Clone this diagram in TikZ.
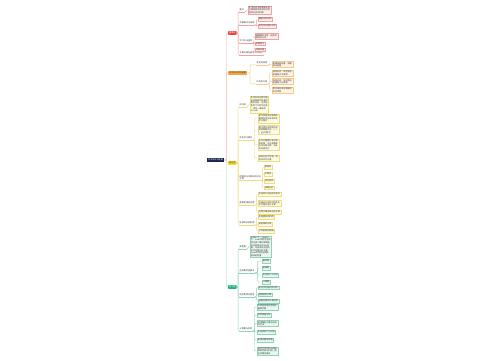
\documentclass[tikz,border=0pt]{standalone}
\usepackage{fontspec}
\setmainfont{Noto Sans CJK SC}
\newcommand\mf{\fontsize{2.1}{2.6}\selectfont}
\definecolor{navy}{HTML}{1C2150}
\definecolor{rmain}{HTML}{E8483F}
\definecolor{rline}{HTML}{F2A3A0}
\definecolor{rfill}{HTML}{FDEDEC}
\definecolor{omain}{HTML}{F7A940}
\definecolor{oline}{HTML}{F8C98A}
\definecolor{ofill}{HTML}{FEF4E6}
\definecolor{ymain}{HTML}{F5D327}
\definecolor{yline}{HTML}{EEDD80}
\definecolor{yfill}{HTML}{FEFBE3}
\definecolor{gmain}{HTML}{1FB37B}
\definecolor{gline}{HTML}{8ED5B5}
\definecolor{gfill}{HTML}{E8F7EF}
\definecolor{txt}{HTML}{333333}
\tikzset{
  rootn/.style={fill=navy, text=white, inner xsep=1.5pt, inner ysep=1pt, font=\mf},
  bnode/.style={anchor=west, fill=#1main, inner xsep=1pt, inner ysep=0.9pt, font=\mf, rounded corners=0.5pt},
  subn/.style={anchor=west, inner xsep=0.5pt, inner ysep=0.6pt, font=\mf, text=txt, align=left},
  leafn/.style={anchor=west, draw=#1line, fill=#1fill, line width=0.25pt, inner xsep=0.8pt, inner ysep=0.7pt, font=\mf, text=txt, align=left},
  conn/.style={draw=#1line, line width=0.45pt, rounded corners=1pt},
  uline/.style={draw=#1line, line width=0.45pt}
}
\begin{document}
\begin{tikzpicture}[x=1pt,y=-1pt]
\useasboundingbox[fill=white] (0,0) rectangle (500,360);
% root
\node[rootn] (root) at (215.5,160) {化学反应与能量};
% branch nodes
\node[bnode=r, text=white] (R) at (228,33) {重难点};
\node[bnode=o, text=txt] (O) at (228,73) {化学反应中的能量};
\node[bnode=y, text=txt] (Y) at (228,163) {知识点};
\node[bnode=g, text=white] (G) at (228,287) {练习题};
\draw[conn=g] (root.east) -- (226.5,160) |- (G.west);
\draw[conn=y] (root.east) -- (226.5,160) |- (Y.west);
\draw[conn=o] (root.east) -- (226.5,160) |- (O.west);
\draw[conn=r] (root.east) -- (226.5,160) |- (R.west);

% ---------- red branch
\node[subn] (rc1) at (239,10) {重点};
\node[subn] (rc2) at (239,23) {本章难点与易错};
\node[subn] (rc3) at (239,41) {学习方法指导};
\node[subn] (rc4) at (239,53) {本章内容在高考中的地位};
\foreach \s in {rc1,rc2,rc3,rc4}{
  \draw[uline=r] (\s.south west) -- (\s.south east);
  \draw[conn=r] (R.east) -- ++(1.5,0) |- (\s.south west);
}
\node[leafn=r] (rl1) at (248,10) {化学反应中能量变化的\\主要原因及吸热反应和\\放热反应的判断};
\node[leafn=r] (rl2) at (258,19) {键能与反应热};
\node[leafn=r] (rl3) at (258,26) {热化学方程式书写};
\node[leafn=r] (rl4) at (255,36.5) {理解概念本质，结合实\\例进行分析};
\node[leafn=r] (rl5) at (255,43.5) {多做练习};
\node[leafn=r] (rl6) at (255,49.5) {归纳总结};
\draw[conn=r] (rc1.south east) -- ++(1.5,0) |- (rl1.west);
\foreach \l in {rl2,rl3}{\draw[conn=r] (rc2.south east) -- ++(1.5,0) |- (\l.west);}
\foreach \l in {rl4,rl5,rl6}{\draw[conn=r] (rc3.south east) -- ++(1,0) |- (\l.west);}

% ---------- orange branch
\node[subn] (oc1) at (256,63) {变化的原因};
\node[subn] (oc2) at (256,82) {反应的分类};
\foreach \s in {oc1,oc2}{
  \draw[uline=o] (\s.south west) -- (\s.south east);
  \draw[conn=o] (O.east) -- ++(3,0) |- (\s.south west);
}
\node[leafn=o] (ol1) at (272,64.5) {断键吸收能量，成键\\放出能量};
\node[leafn=o] (ol2) at (272,73) {放热反应：反应物总\\能量高于生成物};
\node[leafn=o] (ol3) at (272,81.5) {吸热反应：反应物总\\能量低于生成物};
\node[leafn=o] (ol4) at (272,90) {常见吸热反应和放热\\反应举例};
\draw[conn=o] (oc1.south east) -- ++(1.5,0) |- (ol1.west);
\foreach \l in {ol2,ol3,ol4}{\draw[conn=o] (oc2.south east) -- ++(1.5,0) |- (\l.west);}

% ---------- yellow branch
\node[subn] (yc1) at (239,105) {反应热};
\node[subn] (yc2) at (239,138) {热化学方程式};
\node[subn] (yc3) at (239,177.5) {燃烧热与中和热的比较\\计算};
\node[subn] (yc4) at (239,203) {盖斯定律的应用};
\node[subn] (yc5) at (239,223) {能源的开发利用};
\foreach \s in {yc1,yc2,yc3,yc4,yc5}{
  \draw[uline=y] (\s.south west) -- (\s.south east);
  \draw[conn=y] (Y.east) -- ++(1.5,0) |- (\s.south west);
}
\node[leafn=y] (yl1) at (250,104.5) {化学反应过程中放\\出或吸收的热量叫\\做反应热，在恒压\\条件下又称为焓变\\，单位一般采用\\kJ/mol};
\node[leafn=y] (yl2) at (258,118.5) {表示参加反应物质的\\量和反应热关系的化\\学方程式};
\node[leafn=y] (yl3) at (258,130) {需注明反应物和生成\\物的聚集状态，s、l\\、g分别表示};
\node[leafn=y] (yl4) at (258,144.5) {化学计量数只表示物\\质的量，可以是整数\\也可以是分数，与反\\应热成正比};
\node[leafn=y] (yl5) at (258,158) {放热反应为负值，吸\\热反应为正值};
\node[leafn=y] (yl6) at (264,167) {燃烧热};
\node[leafn=y] (yl7) at (264,174) {中和热};
\node[leafn=y] (yl8) at (264,181) {测定实验};
\node[leafn=y] (yl9) at (264,187.5) {误差分析};
\node[leafn=y] (yl10) at (258,194) {反应热只与始终态有关};
\node[leafn=y] (yl11) at (258,203.5) {可通过已知反应的热化\\学方程式进行计算};
\node[leafn=y] (yl12) at (258,212) {应用于难测反应热计算};
\node[leafn=y] (yl13) at (258,217) {化石燃料的利用};
\node[leafn=y] (yl14) at (258,224) {新能源的开发};
\node[leafn=y] (yl15) at (258,231) {节约能源的措施};
\draw[conn=y] (yc1.south east) -- ++(1.5,0) |- (yl1.west);
\foreach \l in {yl2,yl3,yl4,yl5}{\draw[conn=y] (yc2.south east) -- ++(1.5,0) |- (\l.west);}
\foreach \l in {yl6,yl7,yl8,yl9}{\draw[conn=y] (yc3.south east) -- ++(1.2,0) |- (\l.west);}
\foreach \l in {yl10,yl11,yl12}{\draw[conn=y] (yc4.south east) -- ++(1.5,0) |- (\l.west);}
\foreach \l in {yl13,yl14,yl15}{\draw[conn=y] (yc5.south east) -- ++(1.5,0) |- (\l.west);}

% ---------- green branch
\node[subn] (gc1) at (239,247) {典型题};
\node[subn] (gc2) at (239,271) {选择题考查要点};
\node[subn] (gc3) at (239,295) {填空题常见题型};
\node[subn] (gc4) at (239,329) {计算题与实验};
\foreach \s in {gc1,gc2,gc3,gc4}{
  \draw[uline=g] (\s.south west) -- (\s.south east);
  \draw[conn=g] (G.east) -- ++(1.5,0) |- (\s.south west);
}
\node[leafn=g] (gl1) at (250,246.5) {已知25℃、101kPa\\下，1mol甲烷完全燃\\烧生成二氧化碳和液\\态水时放出890kJ热\\量，写出该反应的热\\化学方程式并计算\\2mol甲烷完全燃烧\\放出的热量};
\node[leafn=g] (gl2) at (262,261) {概念题};
\node[leafn=g] (gl3) at (262,268) {图像题};
\node[leafn=g] (gl4) at (262,275) {反应热大小比较};
\node[leafn=g] (gl5) at (262,282) {计算题};
\node[leafn=g] (gl6) at (258,287.5) {热化学方程式的书写};
\node[leafn=g] (gl7) at (258,294.5) {燃烧热的计算};
\node[leafn=g] (gl8) at (258,301) {盖斯定律的计算应用};
\node[leafn=g] (gl9) at (257,307) {中和热测定实验的仪\\器和步骤};
\node[leafn=g] (gl10) at (257,315) {实验误差分析};
\node[leafn=g] (gl11) at (257,323.5) {利用键能计算反应热\\的方法};
\node[leafn=g] (gl12) at (257,332) {反应热的大小比较};
\node[leafn=g] (gl13) at (257,340) {能源问题综合题};
\node[leafn=g] (gl14) at (257,351) {结合生活实际分析能\\源的开发与利用，提\\出合理化建议};
\draw[conn=g] (gc1.south east) -- ++(1.5,0) |- (gl1.west);
\foreach \l in {gl2,gl3,gl4,gl5}{\draw[conn=g] (gc2.south east) -- ++(2.5,0) |- (\l.west);}
\foreach \l in {gl6,gl7,gl8}{\draw[conn=g] (gc3.south east) -- ++(1.5,0) |- (\l.west);}
\foreach \l in {gl9,gl10,gl11,gl12,gl13,gl14}{\draw[conn=g] (gc4.south east) -- ++(1.5,0) |- (\l.west);}
\end{tikzpicture}
\end{document}
